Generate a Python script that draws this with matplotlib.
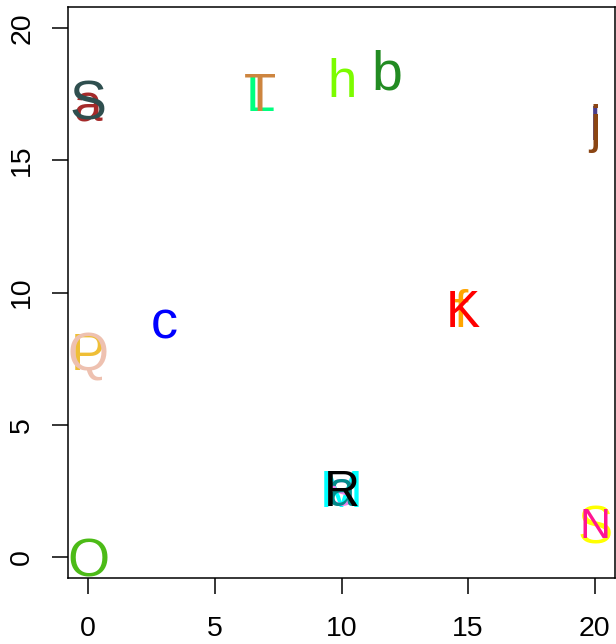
import matplotlib.pyplot as plt

# ---- data: one text label per point (draw order = list order) ----
labels = ['a', 'S', 'O', 'P', 'Q', 'c', 'L', 'T', 'h', 'b',
          'l', 'j', 'f', 'K', 'M', 's', 'a', 'R', 'S', 'N']
xs = [0, 0, 0, 0, 0, 3.0, 6.8, 6.8, 10.0, 11.8,
      20, 20, 14.7, 14.8, 10, 10, 10, 10, 20, 20]
ys = [17.2, 17.3, 0.0, 7.8, 7.8, 9.0, 17.6, 17.6, 18.15, 18.45,
      16.4, 16.4, 9.4, 9.4, 2.6, 2.6, 2.6, 2.6, 1.25, 1.3]
colors = ['#A52A2A', '#2F4F4F', '#4CBB17', '#EFBE35', '#EEC1B0', '#0000FF',
          '#00FF7F', '#CD853F', '#7CFC00', '#228B22', '#483D8B', '#8B4513',
          '#FFA500', '#FF0000', '#00FFFF', '#EE82EE', '#008B8B', '#000000',
          '#FFFF00', '#FF1493']
sizes = [37, 40, 39, 37, 38, 39, 38, 38, 38, 40,
         34, 37, 37, 37, 37, 36, 36, 36, 38, 31]

xticks = [0, 5, 10, 15, 20]
yticks = [0, 5, 10, 15, 20]

plt.rcParams['font.family'] = ['Liberation Sans', 'DejaVu Sans']

fig = plt.figure(figsize=(6.16, 6.44), dpi=100)
ax = fig.add_axes([0.1104, 0.1025, 0.888, 0.8866])

for lab, x, y, c, s in zip(labels, xs, ys, colors, sizes):
    ax.text(x, y, lab, color=c, fontsize=s, ha='center', va='center_baseline')

ax.set_xlim(-0.8, 20.8)
ax.set_ylim(-0.8, 20.8)
ax.set_xticks(xticks)
ax.set_yticks(yticks)
ax.set_xticklabels([str(t) for t in xticks])
ax.set_yticklabels([str(t) for t in yticks], rotation=90, va='center')
ax.tick_params(axis='both', direction='out', length=11.5, width=1.1,
               labelsize=20.5, color='black')
ax.tick_params(axis='x', pad=16)
ax.tick_params(axis='y', pad=12)
for sp in ax.spines.values():
    sp.set_linewidth(1.1)

fig.savefig('out.png', dpi=100)
